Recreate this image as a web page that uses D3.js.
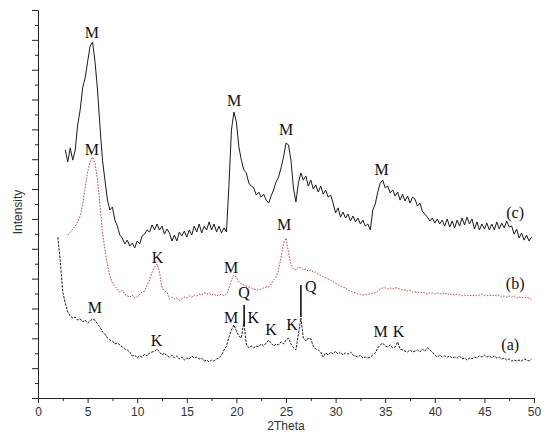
<!DOCTYPE html>
<html>
<head>
<meta charset="utf-8">
<title>XRD patterns (a) (b) (c)</title>
<style>
  body { margin: 0; background: #fff; }
  svg { display: block; }
  .tick text { font-family: "Liberation Sans", Arial, sans-serif; font-size: 12px; fill: #333; }
  .axis path, .axis line { stroke: #222; }
  .peak { font-family: "Liberation Serif", "Times New Roman", serif; font-size: 16px; fill: #111; }
  .title { font-family: "Liberation Sans", Arial, sans-serif; font-size: 12px; fill: #333; }
</style>
</head>
<body>
<div id="chart"></div>
<script src="https://cdn.jsdelivr.net/npm/d3@7/dist/d3.min.js"></script>
<script>
// sampling step of the diffractograms (degrees 2theta)
var thetaStep = 0.25;

// (c) solid black, starts at 2.75
var startC = 2.75;
var intensityC = [
  83.1,79.1,83.8,79.7,83.1,91.5,96.5,103.9,107.2,112.6,
  117.9,119.3,112.6,103.2,90.8,79.7,73.0,66.3,63.0,64.0,
  59.6,57.6,54.6,53.6,51.6,52.9,50.9,51.9,50.3,52.6,
  51.6,54.3,54.9,56.3,55.6,58.0,56.3,58.3,56.3,57.6,
  54.9,56.6,55.3,52.6,54.6,52.6,55.6,54.3,55.9,53.9,
  56.3,54.6,57.6,55.6,58.3,55.3,57.6,56.3,59.0,56.3,
  58.3,55.6,57.6,55.3,57.0,55.6,71.4,89.8,95.8,92.5,
  84.1,79.7,76.4,75.4,72.0,71.0,70.4,68.0,69.0,67.3,
  68.3,66.3,65.3,67.7,69.7,72.4,74.0,77.1,80.7,85.4,
  84.8,79.7,70.4,65.7,72.0,75.4,73.0,74.4,71.0,73.0,
  70.0,71.4,69.0,71.0,68.3,69.7,67.3,68.0,65.3,62.0,
  63.7,60.6,62.3,60.3,61.6,59.3,61.0,59.0,60.3,58.3,
  59.6,57.6,58.3,56.3,63.0,65.0,69.0,72.0,73.0,70.4,
  71.0,68.7,69.7,67.7,69.0,66.3,68.3,66.0,67.7,65.3,
  67.3,66.7,64.3,65.3,62.6,61.6,60.6,59.3,60.3,58.6,
  60.0,58.3,59.6,57.6,60.0,57.3,59.3,57.0,59.6,57.6,
  60.3,58.0,60.6,58.3,60.0,56.6,59.0,56.3,58.3,56.6,
  58.6,56.3,58.3,56.3,59.0,56.6,58.6,57.0,59.3,57.3,
  57.6,54.9,56.6,53.6,55.3,52.9,54.6,52.6,53.9
];

// (b) red dotted, starts at 3.0
var startB = 3.0;
var intensityB = [
  54.6,55.6,56.6,57.6,59.0,61.0,64.7,70.4,75.7,79.1,
  80.7,78.7,73.0,64.7,55.6,49.6,44.6,40.9,38.5,37.5,
  36.5,35.5,36.2,34.8,34.2,33.8,34.5,33.5,33.8,34.8,
  35.5,35.8,37.9,39.5,42.2,43.9,44.9,42.2,36.9,35.8,
  35.5,33.2,33.8,33.2,33.5,32.8,33.2,33.8,33.5,34.2,
  33.8,34.5,34.2,34.8,34.5,35.2,34.8,35.2,34.5,34.8,
  34.2,34.5,34.8,34.2,34.8,36.9,39.5,41.2,40.5,38.9,
  38.2,37.9,37.5,37.2,36.9,36.5,36.2,36.2,36.5,36.9,
  37.2,37.2,38.2,39.5,40.5,42.9,47.2,51.9,53.6,48.9,
  44.6,43.2,42.9,43.9,43.6,42.9,43.2,42.5,42.9,42.2,
  42.2,41.5,41.2,40.5,40.2,39.9,39.5,38.9,38.5,37.9,
  37.5,37.2,36.9,36.2,35.8,35.5,35.2,34.8,34.8,34.5,
  34.5,34.8,34.8,35.2,35.2,35.8,36.5,36.9,36.9,36.5,
  36.9,36.5,36.9,36.9,36.5,36.2,36.2,35.8,36.2,35.5,
  35.5,35.5,35.2,35.5,35.2,34.8,35.2,35.2,34.8,35.2,
  34.8,35.2,34.8,35.2,34.5,34.8,34.5,34.8,34.5,34.2,
  34.5,34.2,34.5,34.2,34.5,34.2,34.5,34.8,34.5,34.2,
  34.5,34.2,34.5,34.2,34.5,33.8,34.2,33.8,34.2,33.8,
  34.2,33.5,33.8,33.5,33.8,33.5,33.5,33.2
];

// (a) black dashed, starts at 2.0
var startA = 2.0;
var intensityA = [
  53.9,45.6,35.5,31.8,28.8,27.5,26.8,27.1,26.1,26.5,
  25.5,26.1,25.1,25.8,26.5,26.1,24.8,23.8,22.1,21.4,
  20.1,19.4,19.1,18.1,18.4,17.8,17.1,16.4,16.1,15.4,
  14.1,14.4,13.4,14.1,13.7,14.7,14.1,15.1,15.4,15.7,
  16.4,15.4,14.4,15.1,14.1,13.7,14.4,13.4,14.1,13.1,
  13.7,12.7,13.4,13.1,14.1,13.4,13.7,13.1,13.4,12.4,
  12.7,12.1,12.7,12.4,13.1,13.4,14.4,16.1,17.4,20.4,
  22.8,24.5,22.4,20.8,20.1,25.5,18.1,16.8,17.4,16.8,
  17.4,17.1,18.1,17.4,18.4,19.4,18.4,17.4,18.1,17.8,
  18.8,18.1,19.4,20.1,18.1,16.8,16.1,21.4,26.8,20.1,
  19.1,20.1,19.8,17.4,16.4,16.1,15.4,13.7,15.1,14.4,
  15.4,14.7,15.7,14.7,15.4,14.4,15.1,14.7,15.4,14.4,
  14.1,13.7,14.4,13.4,13.7,13.4,13.7,14.4,15.1,16.8,
  17.8,18.4,17.4,17.1,17.8,16.8,17.1,18.8,16.4,16.1,
  15.7,15.4,16.1,15.4,15.7,16.1,15.4,16.4,15.7,16.8,
  16.1,15.4,14.4,13.7,14.4,13.7,14.1,13.7,14.1,13.4,
  13.7,13.4,14.1,13.1,13.4,12.7,13.4,13.1,13.7,13.4,
  14.1,13.7,14.4,13.7,14.1,13.4,14.1,13.4,13.7,13.1,
  13.4,12.7,13.1,12.4,12.7,12.4,12.7,12.4,13.1,12.7,
  12.4,13.1
];

// peak labels: text, 2theta, intensity (centre of the letter)
var peakText  = ['M','M','M','M','(c)',  'M','K','M','M','(b)',  'M','K','M','Q','K','K','K','Q','M','K','(a)'];
var peakTheta = [5.42,19.78,25.0,34.64,48.1,  5.42,12.05,19.48,24.8,48.1,  5.72,11.95,19.48,20.78,21.69,23.49,25.6,27.5,34.54,36.35,47.6];
var peakInt   = [122.6,99.8,89.8,76.4,62.0,  83.4,47.2,43.6,58.0,38.5,  30.2,19.4,27.1,35.2,26.8,22.8,24.5,37.2,22.1,22.1,17.8];

// quartz marker bars: 2theta, from, to
var barTheta = [20.78, 26.5];
var barFrom  = [24.2, 27.1];
var barTo    = [31.2, 37.9];

var xTicks = [0,5,10,15,20,25,30,35,40,45,50];
var xMinor = [2.5,7.5,12.5,17.5,22.5,27.5,32.5,37.5,42.5,47.5];
var yTicks = [0,10,20,30,40,50,60,70,80,90,100,110,120,130];
var yMinor = [5,15,25,35,45,55,65,75,85,95,105,115,125];

var width = 545, height = 445;

var svg = d3.select('#chart').append('svg')
  .attr('width', width)
  .attr('height', height);

svg.append('rect').attr('width', width).attr('height', height).attr('fill', '#fff');

var x = d3.scaleLinear().domain([0, 50]).range([38, 534]);
var y = d3.scaleLinear().domain([0, 130]).range([398, 10]);

// axes
svg.append('g').attr('class', 'axis')
  .attr('transform', 'translate(0,398)')
  .call(d3.axisBottom(x).tickValues(xMinor).tickSize(3).tickFormat(''))
  .select('.domain').remove();

svg.append('g').attr('class', 'axis')
  .attr('transform', 'translate(0,398)')
  .call(d3.axisBottom(x).tickValues(xTicks).tickSizeInner(5).tickSizeOuter(0).tickPadding(4));

svg.append('g').attr('class', 'axis')
  .attr('transform', 'translate(38,0)')
  .call(d3.axisLeft(y).tickValues(yMinor).tickSize(3).tickFormat(''))
  .select('.domain').remove();

svg.append('g').attr('class', 'axis')
  .attr('transform', 'translate(38,0)')
  .call(d3.axisLeft(y).tickValues(yTicks).tickSizeInner(6).tickSizeOuter(0).tickFormat(''));

svg.append('text').attr('class', 'title')
  .attr('x', x(25)).attr('y', 430)
  .attr('text-anchor', 'middle')
  .text('2Theta');

svg.append('text').attr('class', 'title')
  .attr('transform', 'translate(22,212) rotate(-90)')
  .attr('text-anchor', 'middle')
  .text('Intensity');

// curves
function toPoints(start, vals) {
  return vals.map(function (v, i) { return [start + i * thetaStep, v]; });
}

var line = d3.line()
  .x(function (d) { return x(d[0]); })
  .y(function (d) { return y(d[1]); });

svg.append('path')
  .datum(toPoints(startA, intensityA))
  .attr('d', line)
  .attr('fill', 'none')
  .attr('stroke', '#1a1a1a')
  .attr('stroke-width', 1)
  .attr('stroke-dasharray', '2.5,1.2');

svg.append('path')
  .datum(toPoints(startB, intensityB))
  .attr('d', line)
  .attr('fill', 'none')
  .attr('stroke', '#c8423f')
  .attr('stroke-width', 1)
  .attr('stroke-dasharray', '1.6,1.4');

svg.append('path')
  .datum(toPoints(startC, intensityC))
  .attr('d', line)
  .attr('fill', 'none')
  .attr('stroke', '#1a1a1a')
  .attr('stroke-width', 1);

// quartz bars
svg.selectAll('.bar')
  .data(barTheta)
  .enter()
  .append('line')
  .attr('class', 'bar')
  .attr('x1', function (d) { return x(d); })
  .attr('x2', function (d) { return x(d); })
  .attr('y1', function (d, i) { return y(barFrom[i]); })
  .attr('y2', function (d, i) { return y(barTo[i]); })
  .attr('stroke', '#111')
  .attr('stroke-width', 1.6);

// labels
svg.selectAll('.peak')
  .data(peakText)
  .enter()
  .append('text')
  .attr('class', 'peak')
  .attr('x', function (d, i) { return x(peakTheta[i]); })
  .attr('y', function (d, i) { return y(peakInt[i]); })
  .attr('dy', '0.34em')
  .attr('text-anchor', 'middle')
  .text(function (d) { return d; });
</script>
</body>
</html>
